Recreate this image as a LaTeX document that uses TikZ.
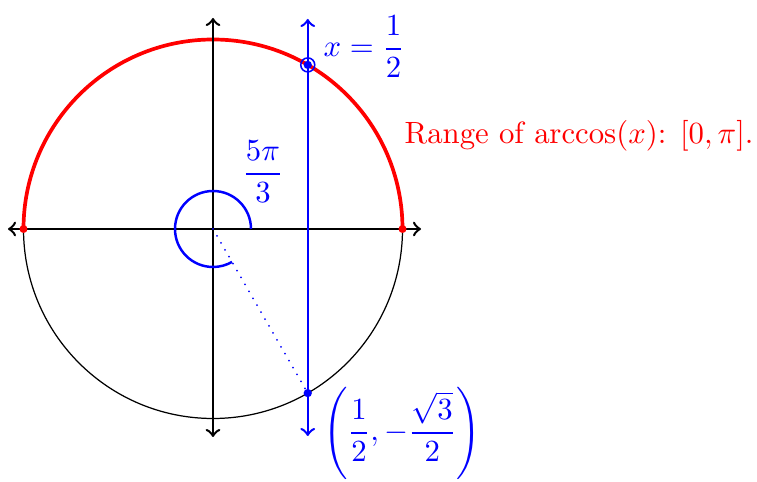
\documentclass[tikz,border=0pt]{standalone}
\usepackage{amsmath}
\begin{document}
\begin{tikzpicture}[x=0.325pt,y=0.325pt,
  axis/.style={thick,<->,black},
  vline/.style={thick,<->,blue},
  lbl/.style={blue,inner sep=0pt},
  reddot/.style={circle,fill=red,inner sep=0pt,minimum size=2.6pt},
  bluedot/.style={circle,fill=blue,inner sep=0pt,minimum size=2.7pt}]
\useasboundingbox (-213,-253) rectangle (544,229);
\def\R{189.5}
\coordinate (O) at (0,0);
\coordinate (xl) at (-205,0);
\coordinate (xr) at (208,0);
\coordinate (yb) at (0,-208);
\coordinate (yt) at (0,211);
\coordinate (vt) at (94.75,210);
\coordinate (vb) at (94.75,-207);
% unit circle
\draw[black,line width=0.4pt] (O) circle (\R);
% range arc
\draw[red,line width=1.2pt] (\R,0) arc (0:180:\R);
% axes
\draw[axis] (xl) -- (xr);
\draw[axis] (yb) -- (yt);
% vertical line x = 1/2
\draw[vline] (vb) -- (vt);
% points
\node[reddot] (pl) at (-\R,0) {};
\node[reddot] (pr) at (\R,0) {};
\node[bluedot] (ptop) at (94.75,164.1) {};
\draw[blue,line width=0.5pt] (ptop) circle (7);
\node[bluedot] (pbot) at (94.75,-164.1) {};
% dotted radius
\draw[blue,line width=0.65pt,line cap=round,dash pattern=on 0pt off 2.6pt] (O) -- (pbot);
% angle arc
\draw[blue,thick] (38,0) arc (0:300:38);
% labels
\node[lbl] (ang) at (50,57) {$\displaystyle\frac{5\pi}{3}$};
\node[lbl,anchor=west] (xeq) at (110,182) {$x=\displaystyle\frac{1}{2}$};
\node[red,inner sep=0pt,anchor=west] (rng) at (191,93) {Range of $\arccos(x)$: $[0,\pi]$.};
\node[lbl] (pt) at (189,-204) {$\displaystyle\left(\frac{1}{2},-\frac{\sqrt{3}}{2}\right)$};
\end{tikzpicture}
\end{document}
